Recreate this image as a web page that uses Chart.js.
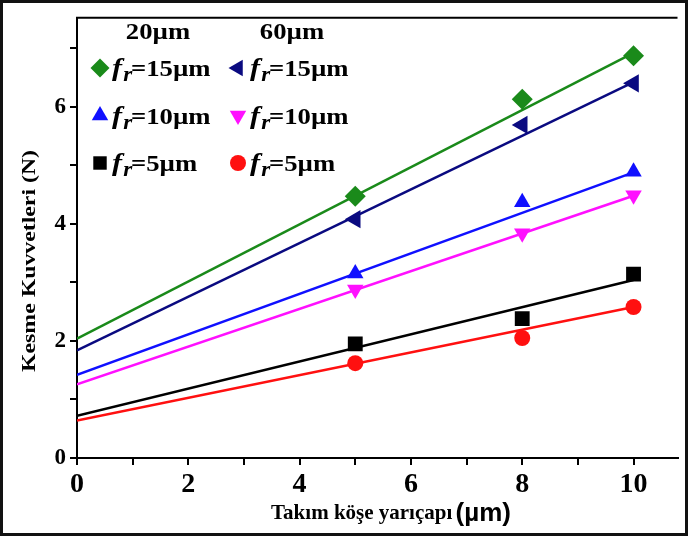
<!DOCTYPE html>
<html>
<head>
<meta charset="utf-8">
<script src="https://cdn.jsdelivr.net/npm/chart.js@4.4.1/dist/chart.umd.min.js"></script>
<style>
  html, body { margin: 0; padding: 0; background: #fff; overflow: hidden; }
  #wrap { width: 688px; height: 536px; position: relative; }
</style>
</head>
<body>
<div id="wrap"><canvas id="c"></canvas></div>
<script>
// --- datos ---
var radios = [5, 8, 10];          // takım köşe yarıçapı (µm)
var fitX = [0, 10];               // extremos de las rectas de ajuste
var xTicks = [0, 1, 2, 3, 4, 5, 6, 7, 8, 9, 10];
var yTicks = [0, 1, 2, 3, 4, 5, 6, 7];
var grupos = ['20µm', '60µm'];
var avances = ['15', '10', '5'];
var tituloX = 'Takım köşe yarıçapı';
var unidadX = '(µm)';
var tituloY = 'Kesme Kuvvetleri (N)';

var f20_15 = [4.47, 6.13, 6.87];
var f60_15 = [4.08, 5.69, 6.40];
var f20_10 = [3.15, 4.37, 4.89];
var f60_10 = [2.88, 3.84, 4.49];
var f20_5  = [1.95, 2.38, 3.14];
var f60_5  = [1.62, 2.05, 2.58];

var fit20_15 = [2.04, 6.92];
var fit60_15 = [1.84, 6.42];
var fit20_10 = [1.42, 4.88];
var fit60_10 = [1.26, 4.48];
var fit20_5  = [0.72, 3.04];
var fit60_5  = [0.64, 2.58];

var serie = [
  { vals: f20_15, fit: fit20_15, color: '#1a8a1a', style: 'rectRot', rot: 0,   r: 10.5, lr: 9.5, col: 0, row: 0 },
  { vals: f60_15, fit: fit60_15, color: '#0a0a80', style: 'triangle', rot: -90, r: 10.5, lr: 9.5, col: 1, row: 0 },
  { vals: f20_10, fit: fit20_10, color: '#1010ff', style: 'triangle', rot: 0,  r: 9.5, lr: 9.5, col: 0, row: 1 },
  { vals: f60_10, fit: fit60_10, color: '#ff10ff', style: 'triangle', rot: 180, r: 9.5, lr: 9.5, col: 1, row: 1 },
  { vals: f20_5,  fit: fit20_5,  color: '#000000', style: 'rect',    rot: 0,   r: 10.5, lr: 9.5, col: 0, row: 2 },
  { vals: f60_5,  fit: fit60_5,  color: '#ff1010', style: 'circle',  rot: 0,   r: 8, lr: 8, col: 1, row: 2 }
];

function pts(xs, ys) {
  return xs.map(function(x, i) { return { x: x, y: ys[i] }; });
}

var datasets = [];
serie.forEach(function(s) {
  datasets.push({
    type: 'line', data: pts(fitX, s.fit),
    borderColor: s.color, borderWidth: 2.5, pointRadius: 0, fill: false, order: 2
  });
});
serie.forEach(function(s) {
  datasets.push({
    type: 'scatter', data: pts(radios, s.vals),
    backgroundColor: s.color, borderColor: s.color, borderWidth: 0,
    pointStyle: s.style, rotation: s.rot, pointRadius: s.r, order: 1
  });
});

function marker(ctx, style, rot, r, x, y, color) {
  ctx.save();
  ctx.translate(x, y);
  ctx.rotate(rot * Math.PI / 180);
  ctx.fillStyle = color;
  ctx.beginPath();
  if (style === 'circle') {
    ctx.arc(0, 0, r, 0, Math.PI * 2);
  } else if (style === 'rect') {
    var h = r * 0.707;
    ctx.rect(-h, -h, 2 * h, 2 * h);
  } else if (style === 'rectRot') {
    ctx.moveTo(0, -r); ctx.lineTo(r, 0); ctx.lineTo(0, r); ctx.lineTo(-r, 0);
  } else {
    var e = r * 3 / Math.sqrt(3), hh = e * Math.sqrt(3) / 2;
    ctx.moveTo(0, -hh * 2 / 3); ctx.lineTo(e / 2, hh / 3); ctx.lineTo(-e / 2, hh / 3);
  }
  ctx.closePath();
  ctx.fill();
  ctx.restore();
}

var serif = '"Liberation Serif", "Times New Roman", serif';
var sans = '"Liberation Sans", Arial, sans-serif';

var marco = {
  id: 'marco',
  afterDraw: function(chart) {
    var ctx = chart.ctx, a = chart.chartArea;
    ctx.save();
    ctx.strokeStyle = '#000';
    ctx.lineWidth = 2;
    ctx.beginPath();
    ctx.moveTo(a.left - 1, a.top); ctx.lineTo(a.right, a.top);
    ctx.stroke();

    // leyenda (dos columnas con cabecera)
    ctx.fillStyle = '#000';
    ctx.textBaseline = 'alphabetic';
    var sx = 1.16;
    ctx.font = 'bold 23px ' + serif;
    [158, 292].forEach(function(cx, i) {
      ctx.save();
      ctx.translate(cx, 39);
      ctx.scale(sx, 1);
      ctx.textAlign = 'center';
      ctx.fillText(grupos[i], 0, 0);
      ctx.restore();
    });
    var colX = [100, 238];
    serie.forEach(function(s) {
      var mx = colX[s.col], my = 68 + s.row * 47.5;
      marker(ctx, s.style, s.rot, s.lr, mx, my, s.color);
      ctx.save();
      ctx.translate(mx + 12, my + 8);
      ctx.scale(sx, 1);
      ctx.textAlign = 'left';
      ctx.fillStyle = '#000';
      var tx = 0;
      ctx.font = 'italic bold 26px ' + serif;
      ctx.fillText('f', tx, 0);
      tx += ctx.measureText('f').width + 1;
      ctx.font = 'italic bold 20px ' + serif;
      ctx.fillText('r', tx, 5);
      tx += ctx.measureText('r').width - 1;
      ctx.font = 'bold 23px ' + serif;
      ctx.fillText('=' + avances[s.row] + 'µm', tx, 0);
      ctx.restore();
    });

    // título del eje X (texto serif + unidad sans más grande)
    ctx.font = 'bold 21px ' + serif;
    var w1 = ctx.measureText(tituloX + ' ').width;
    ctx.font = 'bold 26px ' + sans;
    var w2 = ctx.measureText(unidadX).width;
    var x0 = 392 - (w1 + w2) / 2;
    ctx.textAlign = 'left';
    ctx.font = 'bold 21px ' + serif;
    ctx.fillText(tituloX, x0, 519);
    ctx.font = 'bold 26px ' + sans;
    ctx.fillText(unidadX, x0 + w1 - 2, 521);

    // título del eje Y
    ctx.save();
    ctx.translate(35, 261);
    ctx.rotate(-Math.PI / 2);
    ctx.font = 'bold 19px ' + serif;
    var wy = ctx.measureText(tituloY).width;
    ctx.scale(222 / wy, 1);
    ctx.textAlign = 'center';
    ctx.fillText(tituloY, 0, 0);
    ctx.restore();

    ctx.lineWidth = 3;
    ctx.strokeStyle = '#111';
    ctx.strokeRect(1.5, 1.5, chart.width - 3, chart.height - 3);
    ctx.restore();
  }
};

new Chart(document.getElementById('c'), {
  data: { datasets: datasets },
  options: {
    responsive: true,
    maintainAspectRatio: false,
    animation: false,
    layout: { padding: { top: 12, right: 0, bottom: 0, left: 2 } },
    plugins: { legend: { display: false }, tooltip: { enabled: false } },
    scales: {
      x: {
        type: 'linear', min: 0, max: 10.79,
        afterBuildTicks: function(s) { s.ticks = xTicks.map(function(v) { return { value: v }; }); },
        afterFit: function(s) { s.height = 78; },
        grid: { display: true, drawOnChartArea: false, drawTicks: true, tickLength: 7, color: '#000', lineWidth: 2 },
        border: { display: true, color: '#000', width: 2 },
        ticks: {
          color: '#000', padding: 3,
          font: { family: 'Liberation Serif', size: 28, weight: 'bold' },
          callback: function(v) { return v % 2 === 0 ? v : ''; }
        }
      },
      y: {
        type: 'linear', min: 0, max: 7.52,
        afterBuildTicks: function(s) { s.ticks = yTicks.map(function(v) { return { value: v }; }); },
        afterFit: function(s) { s.width = 75; },
        grid: { display: true, drawOnChartArea: false, drawTicks: true, tickLength: 7, color: '#000', lineWidth: 2 },
        border: { display: true, color: '#000', width: 2 },
        ticks: {
          color: '#000', padding: 4,
          font: { family: 'Liberation Serif', size: 23, weight: 'bold' },
          callback: function(v) { return v % 2 === 0 ? v : ''; }
        }
      }
    }
  },
  plugins: [marco]
});
</script>
</body>
</html>
